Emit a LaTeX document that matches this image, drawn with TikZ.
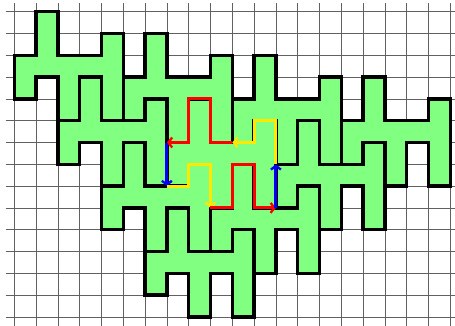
\documentclass[tikz,border=0pt]{standalone}
\usetikzlibrary{arrows.meta}
\definecolor{tilegreen}{RGB}{128,255,128}
\definecolor{pathred}{RGB}{255,0,0}
\definecolor{pathblue}{RGB}{0,0,255}
\definecolor{pathyellow}{RGB}{255,232,0}
\tikzset{
  tileshape/.pic={\path[pic actions] (0,-2) -- (1,-2) -- (1,0) -- (2,0) -- (2,-2) -- (4,-2) -- (4,-1) -- (5,-1) -- (5,-5) -- (4,-5) -- (4,-3) -- (3,-3) -- (3,-5) -- (2,-5) -- (2,-3) -- (1,-3) -- (1,-4) -- (0,-4) -- cycle;},
  gridline/.style={draw=black!62, line width=0.7pt},
  tilefill/.style={fill=tilegreen},
  tileline/.style={draw=black, line width=4.2pt, line join=miter},
  bnpath/.style={line width=4pt, -{Straight Barb[length=5pt,width=13pt,line width=3pt]}},
}
\begin{document}
\begin{tikzpicture}[x=1cm,y=1cm]
\useasboundingbox (-0.656,-14.417) rectangle (20.216,0.537);
\clip (-0.656,-14.417) rectangle (20.216,0.537);
% grid
\foreach \j in {0,...,14} {\draw[gridline] (-0.4,-\j) -- (20.5,-\j);}
\foreach \i in {0,...,20} {\draw[gridline] (\i,0.385) -- (\i,-14.6);}
% tiles
\def\tilelist{0/0,5/1,10/2,15/3,2/3,7/4,12/5,4/6,9/7,6/9}
\foreach \a/\b in \tilelist {\pic[tilefill] at (\a,-\b) {tileshape};}
\foreach \a/\b in \tilelist {\pic[tileline] at (\a,-\b) {tileshape};}
% boundary factorisation of the central tile
\coordinate (r1s) at (10,-6); \coordinate (r1e) at (7,-6);
\coordinate (b1e) at (7,-8);
\coordinate (y1e) at (9,-9);
\coordinate (r2e) at (12,-9);
\coordinate (b2e) at (12,-7);
\draw[bnpath, pathred] (r1s) -- (9,-6) -- (9,-4) -- (8,-4) -- (8,-6) -- (r1e);
\draw[bnpath, pathblue] (r1e) -- (b1e);
\draw[bnpath, pathyellow] (b1e) -- (8,-8) -- (8,-7) -- (9,-7) -- (y1e);
\draw[bnpath, pathred] (y1e) -- (10,-9) -- (10,-7) -- (11,-7) -- (11,-9) -- (r2e);
\draw[bnpath, pathblue] (r2e) -- (b2e);
\draw[bnpath, pathyellow] (b2e) -- (12,-5) -- (11,-5) -- (11,-6) -- (r1s);
\end{tikzpicture}
\end{document}
